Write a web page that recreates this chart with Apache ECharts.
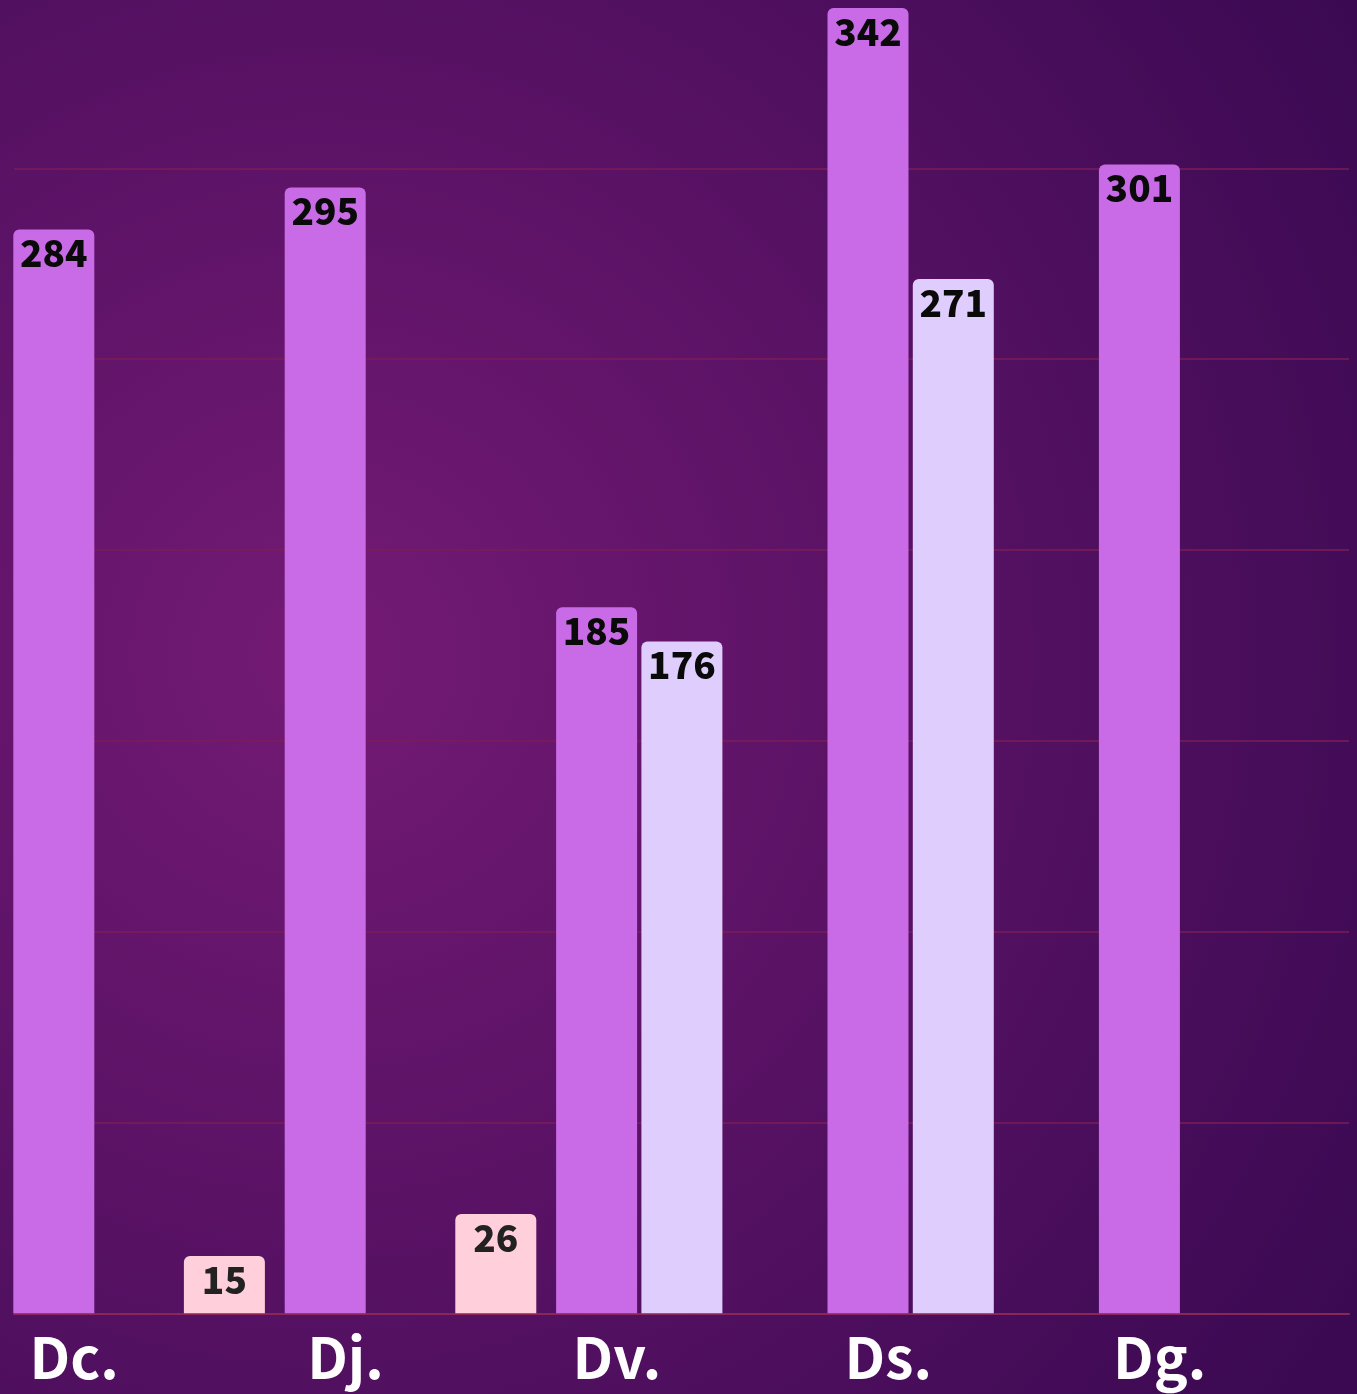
<!DOCTYPE html>
<html>
<head>
<meta charset="utf-8">
<style>
  html, body { margin: 0; padding: 0; background: #3a0852; }
  #chart { width: 1357px; height: 1394px; }
</style>
<script src="https://cdn.jsdelivr.net/npm/echarts@6/dist/echarts.min.js"></script>
</head>
<body>
<div id="chart"></div>
<script>
const categories = ['Dc.', 'Dj.', 'Dv.', 'Ds.', 'Dg.'];
const seriesPurple = [284, 295, 185, 342, 301];
const seriesLavender = [null, null, 176, 271, null];
const seriesPink = [15, 26, null, null, null];
const yTicks = { min: 0, max: 350, interval: 50 };

const FONT = '"Noto Sans CJK SC", "Noto Sans", sans-serif';
const chart = echarts.init(document.getElementById('chart'), null, { renderer: 'canvas' });

function labelCfg() {
  return {
    show: true,
    position: 'insideTop',
    distance: 5,
    color: '#0a0a0a',
    fontFamily: FONT,
    fontWeight: 900,
    fontSize: 37
  };
}

const option = {
  backgroundColor: new echarts.graphic.RadialGradient(0.24, 0.47, 0.96, [
    { offset: 0, color: '#741a75' },
    { offset: 1, color: '#370850' }
  ]),
  animation: false,
  grid: [
    { left: 3.4, right: -3.4, top: -22.5, bottom: 80.7, outerBoundsMode: 'none', containLabel: false },
    { left: 14, right: 8, top: -22.5, bottom: 80.7, outerBoundsMode: 'none', containLabel: false }
  ],
  xAxis: [
    {
      type: 'category',
      gridIndex: 0,
      data: categories,
      axisLine: { show: false },
      axisTick: { show: false },
      axisLabel: {
        color: '#ffffff',
        fontFamily: FONT,
        fontWeight: 'bold',
        fontSize: 57,
        margin: 16,
        padding: [0, 130, 0, 0]
      }
    },
    {
      type: 'category',
      gridIndex: 1,
      data: categories,
      axisLine: { show: true, lineStyle: { color: '#8a2658', width: 2 } },
      axisTick: { show: false },
      axisLabel: { show: false }
    }
  ],
  yAxis: [
    {
      type: 'value',
      gridIndex: 0,
      min: yTicks.min, max: yTicks.max, interval: yTicks.interval,
      show: false,
      splitLine: { show: false }
    },
    {
      type: 'value',
      gridIndex: 1,
      min: yTicks.min, max: yTicks.max, interval: yTicks.interval,
      axisLine: { show: false },
      axisTick: { show: false },
      axisLabel: { show: false },
      splitLine: { show: true, lineStyle: { color: '#7c1d56', width: 1.5 } }
    }
  ],
  series: [
    {
      type: 'bar', xAxisIndex: 0, yAxisIndex: 0,
      data: seriesPurple,
      barWidth: 81, barGap: '5.3%',
      itemStyle: { color: '#c96be6', borderRadius: [6, 6, 0, 0] },
      label: labelCfg()
    },
    {
      type: 'bar', xAxisIndex: 0, yAxisIndex: 0,
      data: seriesLavender,
      barWidth: 81, barGap: '5.3%',
      itemStyle: { color: '#dfcdfd', borderRadius: [6, 6, 0, 0] },
      label: labelCfg()
    },
    {
      type: 'bar', xAxisIndex: 0, yAxisIndex: 0,
      data: seriesPink,
      barWidth: 81, barGap: '5.3%',
      itemStyle: { color: '#ffcfdb', borderRadius: [6, 6, 0, 0] },
      label: Object.assign(labelCfg(), { color: '#222222' })
    }
  ]
};
chart.setOption(option);
</script>
</body>
</html>
